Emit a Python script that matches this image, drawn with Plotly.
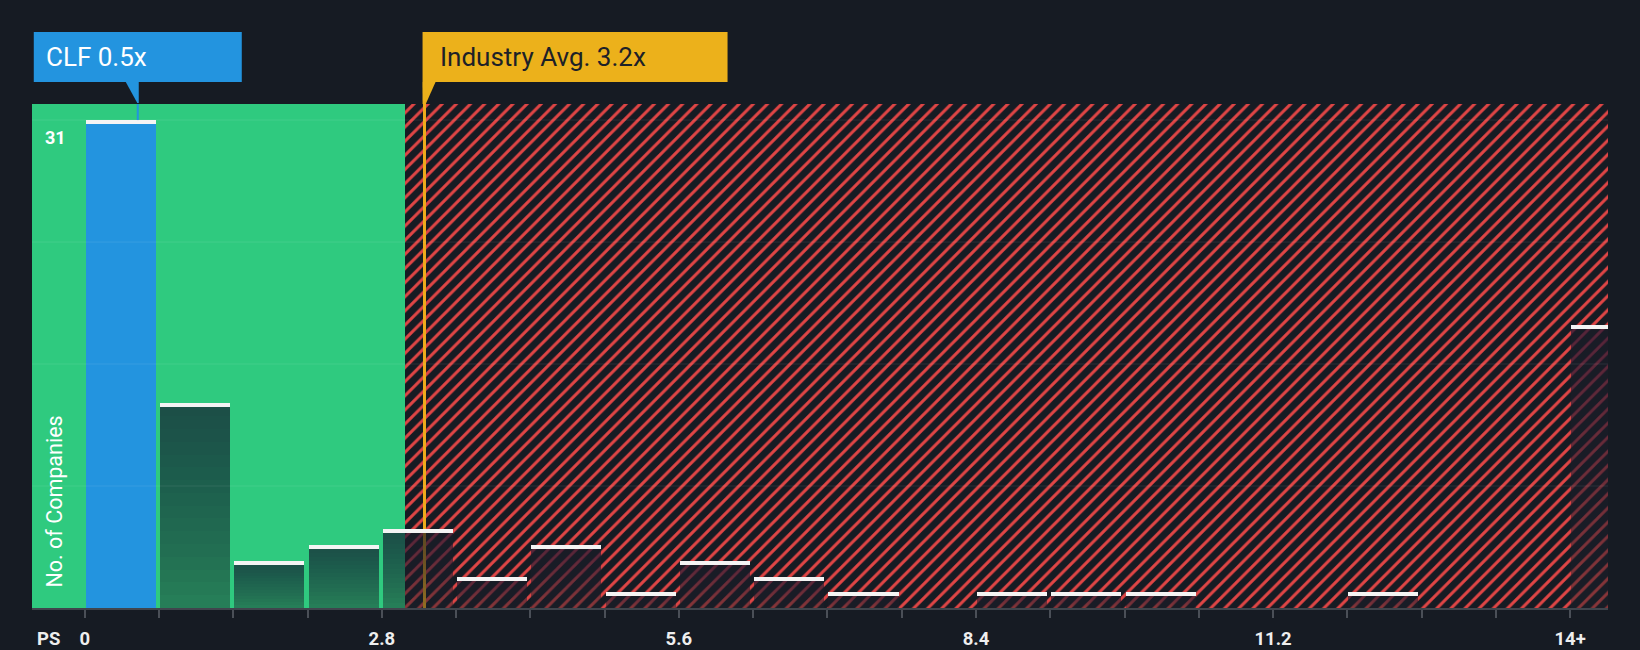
import plotly.graph_objects as go

# ---- data ----
bin_starts = [0.0, 0.7, 1.4, 2.1, 2.8, 3.5, 4.2, 4.9, 5.6, 6.3, 7.0,
              7.7, 8.4, 9.1, 9.8, 10.5, 11.2, 11.9, 12.6, 13.3, 14.0]
counts = [31, 13, 3, 4, 5, 2, 4, 1, 3, 2, 1, 0, 1, 1, 1, 0, 0, 1, 0, 0, 18]
tick_vals = bin_starts
tick_text = ["0", "", "", "", "2.8", "", "", "", "5.6", "", "", "", "8.4",
             "", "", "", "11.2", "", "", "", "14+"]
grid_vals = [7.75, 15.5, 23.25, 31]
clf_value = 0.5
industry_avg = 3.2
fair_end = 3.02
company = "CLF"

# ---- style ----
BG = "#161b23"
GREEN = "#2fca7f"
BLUE = "#2394df"
GOLD = "#ecb11b"
LINE_GOLD = "#eeaa1c"
RED = "#e04545"
X_RANGE = [-0.497, 14.357]
Y_TOP = 32.02
PX_X = 1576 / (X_RANGE[1] - X_RANGE[0])   # px per x unit
PX_Y = 504 / Y_TOP                        # px per y unit
BAR_W = 0.66
BAR_OFF = 0.01
CAP_H = 4 / PX_Y

clf_idx = max(i for i, s in enumerate(bin_starts) if s <= clf_value)

fig = go.Figure()

# hatched "expensive" region
fig.add_trace(go.Bar(
    x=[fair_end], y=[Y_TOP * 1.2], base=0, width=X_RANGE[1] + 1 - fair_end, offset=0,
    marker=dict(color=BG, line=dict(width=0),
                pattern=dict(shape="/", fgcolor=RED, bgcolor=BG, size=10,
                             solidity=0.3, fillmode="replace")),
    hoverinfo="skip", showlegend=False))

# industry average line (under the bars)
lw = 3 / PX_X
fig.add_trace(go.Bar(
    x=[industry_avg], y=[Y_TOP * 1.2], base=0, width=lw, offset=-lw / 2,
    marker=dict(color=LINE_GOLD, line=dict(width=0)),
    hoverinfo="skip", showlegend=False))

# gradient bars (stacked translucent layers)
K = 16
grad_vals = [0 if i == clf_idx else v for i, v in enumerate(counts)]
for k in range(K):
    frac = k / K
    alpha = 0.45 if k == 0 else 0.036
    fig.add_trace(go.Bar(
        x=bin_starts, y=[v * (1 - frac) for v in grad_vals],
        base=[v * frac for v in grad_vals],
        width=BAR_W, offset=BAR_OFF,
        marker=dict(color=f"rgba(28,33,43,{alpha})", line=dict(width=0)),
        hoverinfo="skip", showlegend=False))

# highlighted company bar
fig.add_trace(go.Bar(
    x=[bin_starts[clf_idx]], y=[counts[clf_idx]], base=0,
    width=BAR_W, offset=BAR_OFF,
    marker=dict(color=BLUE, line=dict(width=0)),
    hoverinfo="skip", showlegend=False))

# white caps
cap_x = [s for s, v in zip(bin_starts, counts) if v > 0]
cap_b = [v - CAP_H for v in counts if v > 0]
fig.add_trace(go.Bar(
    x=cap_x, y=[CAP_H] * len(cap_x), base=cap_b,
    width=BAR_W, offset=BAR_OFF,
    marker=dict(color="#f4f4f4", line=dict(width=0)),
    hoverinfo="skip", showlegend=False))

shapes = []
# fair region
shapes.append(dict(type="rect", xref="x", yref="paper", x0=X_RANGE[0], x1=fair_end,
                   y0=0, y1=1, fillcolor=GREEN, line=dict(width=0), layer="below"))
# grid lines
for g in grid_vals:
    shapes.append(dict(type="line", xref="paper", yref="y", x0=0, x1=1, y0=g, y1=g,
                       line=dict(color="rgba(255,255,255,0.09)", width=1), layer="above"))

box_y0 = (608 - 82) / 504
box_y1 = (608 - 32) / 504
tip_y = (608 - 103) / 504

# CLF callout
half = 104 / PX_X
shapes.append(dict(type="rect", xref="x", yref="paper", x0=clf_value - half,
                   x1=clf_value + half, y0=box_y0, y1=box_y1, fillcolor=BLUE,
                   line=dict(width=0), layer="above"))
shapes.append(dict(type="path", xref="x", yref="paper",
                   path=f"M {clf_value - 12 / PX_X} {box_y0} L {clf_value + 1 / PX_X} {box_y0} "
                        f"L {clf_value + 1 / PX_X} {tip_y} L {clf_value - 0.5 / PX_X} {tip_y} Z",
                   fillcolor=BLUE, line=dict(width=0), layer="above"))
shapes.append(dict(type="line", xref="x", yref="y", x0=clf_value, x1=clf_value,
                   y0=counts[clf_idx], y1=Y_TOP, line=dict(color=BLUE, width=2), layer="above"))

# industry callout
ia0 = industry_avg - 1.7 / PX_X
shapes.append(dict(type="rect", xref="x", yref="paper", x0=ia0, x1=ia0 + 305 / PX_X,
                   y0=box_y0, y1=box_y1, fillcolor=GOLD, line=dict(width=0), layer="above"))
shapes.append(dict(type="path", xref="x", yref="paper",
                   path=f"M {ia0} {box_y0} L {ia0 + 13 / PX_X} {box_y0} "
                        f"L {industry_avg + 1.5 / PX_X} {tip_y - 0.002} L {industry_avg - 1.5 / PX_X} {tip_y - 0.002} Z",
                   fillcolor=GOLD, line=dict(width=0), layer="above"))
shapes.append(dict(type="line", xref="x", yref="paper", x0=industry_avg, x1=industry_avg,
                   y0=box_y0, y1=1.0, line=dict(color=GOLD, width=3), layer="above"))

box_mid = (box_y0 + box_y1) / 2
annotations = [
    dict(text=f"{company} {clf_value}x", xref="x", yref="paper",
         x=clf_value - half + 10 / PX_X, y=box_mid, xanchor="left", yanchor="middle",
         showarrow=False, font=dict(family="Roboto", size=26, color="#ffffff")),
    dict(text=f"Industry Avg. {industry_avg}x", xref="x", yref="paper",
         x=ia0 + 15 / PX_X, y=box_mid, xanchor="left", yanchor="middle",
         showarrow=False, font=dict(family="Roboto", size=26, color="#1d2128")),
    dict(text=str(grid_vals[-1]), xref="paper", yref="y", x=(55 - 32) / 1576, y=grid_vals[-1],
         xanchor="center", yanchor="top", yshift=-5, showarrow=False,
         font=dict(family="Roboto", size=18, color="#ffffff", weight="bold")),
    dict(text="No. of Companies", xref="paper", yref="paper", x=(53.5 - 32) / 1576,
         y=(608 - 502) / 504, xanchor="center", yanchor="middle", textangle=-90,
         showarrow=False, font=dict(family="Roboto", size=21.5, color="#ffffff")),
    dict(text="PS", xref="paper", yref="paper", x=(48 - 32) / 1576, y=-(639 - 608) / 504,
         xanchor="center", yanchor="middle", showarrow=False,
         font=dict(family="Roboto", size=18.5, color="#eeeeee", weight="bold")),
]

fig.update_layout(
    width=1640, height=650,
    margin=dict(l=32, r=32, t=104, b=42, autoexpand=False),
    paper_bgcolor=BG, plot_bgcolor=BG,
    barmode="overlay", bargap=0,
    showlegend=False,
    shapes=shapes, annotations=annotations,
    xaxis=dict(range=X_RANGE, tickmode="array", tickvals=tick_vals, ticktext=tick_text,
               showgrid=False, zeroline=False, showline=True, linecolor="#40454d",
               linewidth=2, ticks="outside", ticklen=8, tickwidth=1.5, tickcolor="#4a4f57",
               ticklabelstandoff=5,
               tickfont=dict(family="Roboto", size=18.5, color="#eeeeee", weight="bold"),
               automargin=False, fixedrange=True),
    yaxis=dict(range=[0, Y_TOP], showgrid=False, zeroline=False, showticklabels=False,
               showline=False, automargin=False, fixedrange=True),
)

fig.write_html(
    "out.html",
    config={"displayModeBar": False},
    post_script="document.body.style.margin='0';document.body.style.background='#161b23';",
)
